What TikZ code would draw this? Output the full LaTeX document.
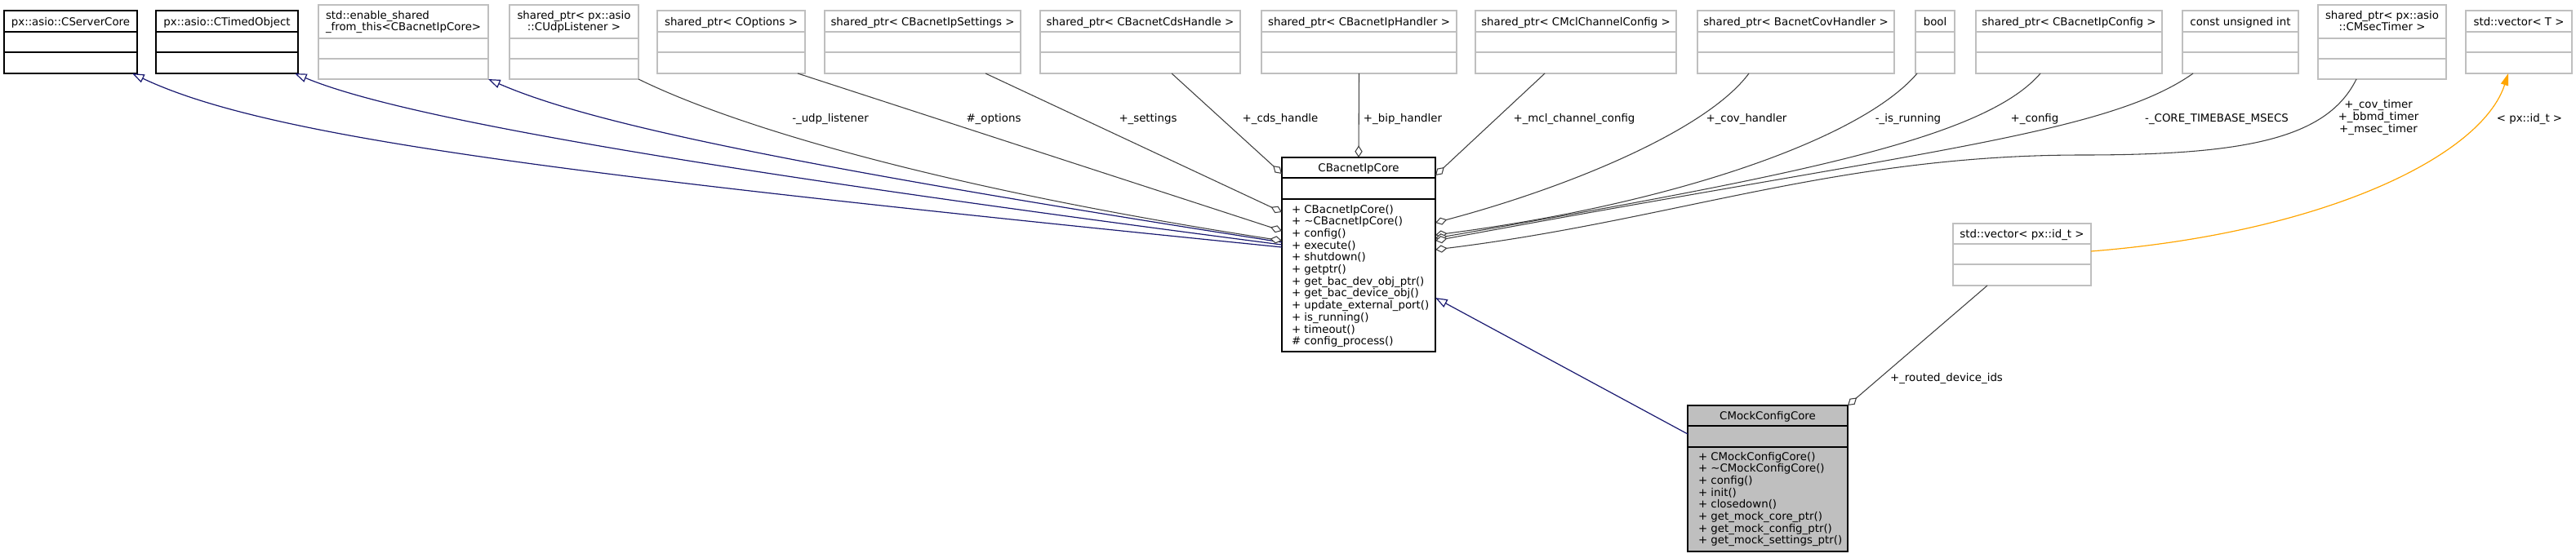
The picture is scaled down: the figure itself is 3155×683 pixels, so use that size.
\documentclass[tikz,border=0pt]{standalone}
\usepackage{fontspec}
\setmainfont{DejaVu Sans}
\usetikzlibrary{arrows.meta,calc}
\definecolor{edgegray}{HTML}{404040}
\definecolor{boxgray}{HTML}{BFBFBF}
\definecolor{navyedge}{HTML}{191970}
\definecolor{tmplorange}{HTML}{FFA500}
\newcommand\classbox[8]{%
  \pgfmathsetmacro\bw{(#5-#3)*0.75}%
  \pgfmathsetmacro\bh{(#6-#4)*0.75}%
  \node[#2, minimum width=\bw pt, minimum height=\bh pt] (#1) at ({(#3+#5)/2},{(#4+#6)/2}) {};
  \draw[#2] (#3,#7) -- (#5,#7) (#3,#8) -- (#5,#8);
}
\begin{document}
\begin{tikzpicture}[x=0.75pt,y=-0.75pt,
  font=\fontsize{10}{11}\selectfont,
  docbox/.style={draw=black, line width=1pt, inner sep=0pt, outer sep=0pt, rectangle},
  undocbox/.style={draw=boxgray, line width=1pt, inner sep=0pt, outer sep=0pt, rectangle},
  mainbox/.style={draw=black, fill=boxgray, line width=1pt, inner sep=0pt, outer sep=0pt, rectangle},
  txt/.style={inner sep=0pt, outer sep=0pt},
  lbl/.style={inner sep=0pt, outer sep=0pt, anchor=base},
  inh/.style={draw=navyedge, line width=0.9pt, {Triangle[length=11pt,width=8pt,fill=white]}-},
  comp/.style={draw=edgegray, line width=0.8pt, -{Diamond[length=11pt,width=7pt,fill=white]}},
  tmpl/.style={draw=tmplorange, line width=0.9pt, -{Triangle[length=11pt,width=7pt]}}
]
\useasboundingbox (0,0) rectangle (3155,683);

% ---------- boxes ----------
\classbox{srv}{docbox}{5}{13}{168}{90}{39}{64}
\classbox{tmo}{docbox}{191}{13}{365}{90}{39}{64}
\classbox{esf}{undocbox}{390}{6}{598}{97}{47}{72}
\classbox{udp}{undocbox}{624}{6}{782}{97}{47}{72}
\classbox{opt}{undocbox}{805}{13}{986}{90}{39}{64}
\classbox{sset}{undocbox}{1010}{13}{1250}{90}{39}{64}
\classbox{cds}{undocbox}{1274}{13}{1519}{90}{39}{64}
\classbox{bip}{undocbox}{1545}{13}{1784}{90}{39}{64}
\classbox{mcl}{undocbox}{1807}{13}{2053}{90}{39}{64}
\classbox{cov}{undocbox}{2079}{13}{2320}{90}{39}{64}
\classbox{boo}{undocbox}{2346}{13}{2394}{90}{39}{64}
\classbox{cfg}{undocbox}{2420}{13}{2648}{90}{39}{64}
\classbox{ctb}{undocbox}{2673}{13}{2815}{90}{39}{64}
\classbox{tmr}{undocbox}{2839}{6}{2996}{97}{47}{72}
\classbox{vec}{undocbox}{3020}{13}{3150}{90}{39}{64}
\classbox{core}{docbox}{1570}{193}{1758}{431}{218}{244}
\classbox{mock}{mainbox}{2067}{497}{2263}{676}{522}{548}
\classbox{vid}{undocbox}{2392}{274}{2561}{350}{299}{324}

% ---------- titles ----------
\node[lbl] (srv-t) at (86.5,31) {px::asio::CServerCore};
\node[lbl] (tmo-t) at (278,31) {px::asio::CTimedObject};
\node[txt, anchor=base west] (esf-t1) at (399,23) {std::enable\_shared};
\node[txt, anchor=base west] (esf-t2) at (399,37.7) {\_from\_this<CBacnetIpCore>};
\node[lbl] (udp-t1) at (703,23) {shared\_ptr< px::asio};
\node[lbl] (udp-t2) at (703,37.7) {::CUdpListener >};
\node[lbl] (opt-t) at (895.5,31) {shared\_ptr< COptions >};
\node[lbl] (sset-t) at (1130,31) {shared\_ptr< CBacnetIpSettings >};
\node[lbl] (cds-t) at (1396.5,31) {shared\_ptr< CBacnetCdsHandle >};
\node[lbl] (bip-t) at (1664.5,31) {shared\_ptr< CBacnetIpHandler >};
\node[lbl] (mcl-t) at (1930,31) {shared\_ptr< CMclChannelConfig >};
\node[lbl] (cov-t) at (2199.5,31) {shared\_ptr< BacnetCovHandler >};
\node[lbl] (boo-t) at (2370,31) {bool};
\node[lbl] (cfg-t) at (2534,31) {shared\_ptr< CBacnetIpConfig >};
\node[lbl] (ctb-t) at (2744,31) {const unsigned int};
\node[lbl] (tmr-t1) at (2917.5,23) {shared\_ptr< px::asio};
\node[lbl] (tmr-t2) at (2917.5,37.7) {::CMsecTimer >};
\node[lbl] (vec-t) at (3085,31) {std::vector< T >};
\node[lbl] (core-t) at (1664,210.5) {CBacnetIpCore};
\node[lbl] (mock-t) at (2165,514.5) {CMockConfigCore};
\node[lbl] (vid-t) at (2476.5,291.5) {std::vector< px::id\_t >};

% ---------- methods ----------
\foreach \m [count=\i from 0] in {{+ CBacnetIpCore()},{+ \textasciitilde CBacnetIpCore()},{+ config()},{+ execute()},{+ shutdown()},{+ getptr()},{+ get\_bac\_dev\_obj\_ptr()},{+ get\_bac\_device\_obj()},{+ update\_external\_port()},{+ is\_running()},{+ timeout()},{\# config\_process()}}
  \node[txt, anchor=base west] (core-m\i) at (1582,261+14.7*\i) {\m};
\foreach \m [count=\i from 0] in {{+ CMockConfigCore()},{+ \textasciitilde CMockConfigCore()},{+ config()},{+ init()},{+ closedown()},{+ get\_mock\_core\_ptr()},{+ get\_mock\_config\_ptr()},{+ get\_mock\_settings\_ptr()}}
  \node[txt, anchor=base west] (mock-m\i) at (2080,564+14.7*\i) {\m};

% ---------- inheritance ----------
\draw[inh] ($(srv.south east)+(-6,0)$) .. controls (330,170) and (700,215) .. ($(core.north west)+(0,110)$);
\draw[inh] ($(tmo.south east)+(-4,0)$) .. controls (480,140) and (800,200) .. ($(core.north west)+(0,107)$);
\draw[inh] (esf.south east) .. controls (720,150) and (950,200) .. ($(core.north west)+(0,104)$);
\draw[inh] ($(core.north east)+(0,172)$) -- ($(mock.north west)+(0,35)$);

% ---------- composition ----------
\draw[comp] (udp.south east) .. controls (900,155) and (1150,230) .. ($(core.north west)+(0,102)$);
\draw[comp] ($(opt.south east)+(-9,0)$) -- ($(core.north west)+(0,90)$);
\draw[comp] ($(sset.south east)+(-43,0)$) -- ($(core.north west)+(0,67)$);
\draw[comp] ($(cds.south east)+(-84,0)$) -- ($(core.north west)+(0,20)$);
\draw[comp] (bip.south) -- (core.north);
\draw[comp] ($(mcl.south west)+(85,0)$) -- ($(core.north east)+(0,22)$);
\draw[comp] ($(cov.south west)+(63,0)$) .. controls (2090,160) and (1920,230) .. ($(core.north east)+(0,80)$);
\draw[comp] ($(boo.south west)+(2,0)$) .. controls (2280,170) and (2050,250) .. ($(core.north east)+(0,95)$);
\draw[comp] ($(cfg.south west)+(79,0)$) .. controls (2430,170) and (2200,215) .. ($(core.north east)+(0,99)$);
\draw[comp] ($(ctb.south west)+(13,0)$) .. controls (2580,165) and (2350,185) .. ($(core.north east)+(0,102)$);
\coordinate (tmr-mid) at (2550,190);
\draw[comp] ($(tmr.south west)+(47,0)$) .. controls (2850,170) and (2750,190) .. (tmr-mid) .. controls (2250,190) and (2050,270) .. ($(core.north east)+(0,113)$);
\draw[comp] ($(vid.south west)+(42,0)$) -- (mock.north east);

% ---------- template instance ----------
\draw[tmpl] ($(vid.north east)+(0,34)$) .. controls (2850,285) and (3040,190) .. ($(vec.south west)+(52,0)$);

% ---------- edge labels ----------
\node[lbl] (l-udp) at (1017,149) {-\_udp\_listener};
\node[lbl] (l-opt) at (1217,149) {\#\_options};
\node[lbl] (l-set) at (1406,149) {+\_settings};
\node[lbl] (l-cds) at (1568,149) {+\_cds\_handle};
\node[lbl] (l-bip) at (1718,149) {+\_bip\_handler};
\node[lbl] (l-mcl) at (1928,149) {+\_mcl\_channel\_config};
\node[lbl] (l-cov) at (2139,149) {+\_cov\_handler};
\node[lbl] (l-run) at (2337,149) {-\_is\_running};
\node[lbl] (l-cfg) at (2492,149) {+\_config};
\node[lbl] (l-ctb) at (2715,149) {-\_CORE\_TIMEBASE\_MSECS};
\node[txt, align=center] (l-tmr) at (2913,144) {+\_cov\_timer\\+\_bbmd\_timer\\+\_msec\_timer};
\node[lbl] (l-tpl) at (3098,149) {< px::id\_t >};
\node[lbl] (l-rdi) at (2384,467) {+\_routed\_device\_ids};
\end{tikzpicture}
\end{document}
